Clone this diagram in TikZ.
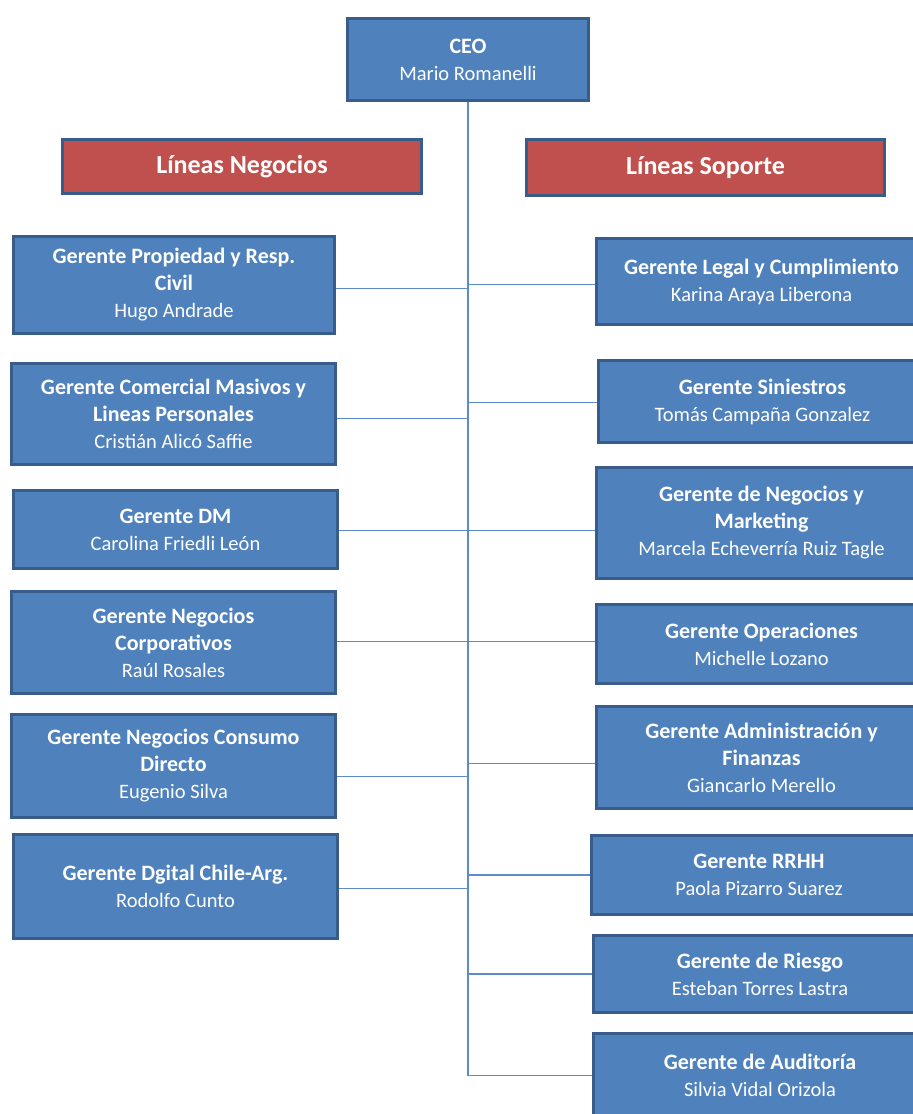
\documentclass[tikz,border=0pt]{standalone}
\usepackage{fontspec}
\setmainfont{Carlito}
\definecolor{boxfill}{HTML}{4F81BD}
\definecolor{boxline}{HTML}{385D8A}
\definecolor{redfill}{HTML}{C0504D}
\definecolor{conn}{HTML}{5B8BC9}
\tikzset{
  orgbox/.style={draw=boxline, line width=3pt, fill=boxfill, text=white, anchor=north west,
    inner sep=0pt, align=center, font=\fontsize{20.5}{27}\selectfont},
  headbox/.style={draw=boxline, line width=3pt, fill=redfill, text=white, anchor=north west,
    inner sep=0pt, align=center, font=\fontsize{26}{28}\selectfont\bfseries},
  link/.style={draw=conn, line width=1.6pt},
}
\newcommand{\tl}[1]{{\fontsize{22}{27}\selectfont\bfseries #1}}
\begin{document}
\begin{tikzpicture}[x=1pt,y=-1pt]
\useasboundingbox (0,0) rectangle (913,1114);
% CEO
\node[orgbox, minimum width=241pt, minimum height=82pt] (ceo) at (346,17) {\tl{CEO}\\Mario Romanelli};
% headings
\node[headbox, minimum width=359pt, minimum height=54pt] (hn) at (61,138) {Líneas Negocios};
\node[headbox, minimum width=358pt, minimum height=56pt] (hs) at (525,138) {Líneas Soporte};
% left boxes
\node[orgbox, minimum width=321pt, minimum height=97pt] (l1) at (12,235) {\tl{Gerente Propiedad y Resp.}\\\tl{Civil}\\Hugo Andrade};
\node[orgbox, minimum width=324pt, minimum height=101pt] (l2) at (10,362) {\tl{Gerente Comercial Masivos y}\\\tl{Lineas Personales}\\Cristián Alicó Saffie};
\node[orgbox, minimum width=324pt, minimum height=78pt] (l3) at (12,489) {\tl{Gerente DM}\\Carolina Friedli León};
\node[orgbox, minimum width=324pt, minimum height=102pt] (l4) at (10,590) {\tl{Gerente Negocios}\\\tl{Corporativos}\\Raúl Rosales};
\node[orgbox, minimum width=324pt, minimum height=103pt] (l5) at (10,713) {\tl{Gerente Negocios Consumo}\\\tl{Directo}\\Eugenio Silva};
\node[orgbox, minimum width=324pt, minimum height=104pt] (l6) at (12,833) {\tl{Gerente Dgital Chile-Arg.}\\Rodolfo Cunto};
% right boxes
\node[orgbox, minimum width=330pt, minimum height=86pt] (r1) at (595,237) {\tl{Gerente Legal y Cumplimiento}\\Karina Araya Liberona};
\node[orgbox, minimum width=328pt, minimum height=82pt] (r2) at (597,359) {\tl{Gerente Siniestros}\\Tomás Campaña Gonzalez};
\node[orgbox, minimum width=330pt, minimum height=111pt] (r3) at (595,466) {\tl{Gerente de Negocios y}\\\tl{Marketing}\\Marcela Echeverría Ruiz Tagle};
\node[orgbox, minimum width=330pt, minimum height=79pt] (r4) at (595,603) {\tl{Gerente Operaciones}\\Michelle Lozano};
\node[orgbox, minimum width=330pt, minimum height=102pt] (r5) at (595,705) {\tl{Gerente Administración y}\\\tl{Finanzas}\\Giancarlo Merello};
\node[orgbox, minimum width=335pt, minimum height=79pt] (r6) at (590,834) {\tl{Gerente RRHH}\\Paola Pizarro Suarez};
\node[orgbox, minimum width=333pt, minimum height=77pt] (r7) at (592,934) {\tl{Gerente de Riesgo}\\Esteban Torres Lastra};
\node[orgbox, minimum width=333pt, minimum height=84pt] (r8) at (592,1032) {\tl{Gerente de Auditoría}\\Silvia Vidal Orizola};
% trunk
\coordinate (tend) at (r8.west -| ceo.south);
\draw[link] (ceo.south) -- (tend);
% left connectors
\draw[link] ([yshift=-3.5pt]l1.east) -- ([yshift=-3.5pt]l1.east -| ceo.south);
\draw[link] ([yshift=-4.5pt]l2.east) -- ([yshift=-4.5pt]l2.east -| ceo.south);
\draw[link] ([yshift=-1pt]l3.east) -- ([yshift=-1pt]l3.east -| ceo.south);
\draw[link] ([yshift=1pt]l4.east) -- ([yshift=1pt]l4.east -| ceo.south);
\draw[link] ([yshift=-10.5pt]l5.east) -- ([yshift=-10.5pt]l5.east -| ceo.south);
\draw[link] ([yshift=-2pt]l6.east) -- ([yshift=-2pt]l6.east -| ceo.south);
% right connectors
\draw[link] ([yshift=-3pt]r1.west) -- ([yshift=-3pt]r1.west -| ceo.south);
\draw[link] ([yshift=-1pt]r2.west) -- ([yshift=-1pt]r2.west -| ceo.south);
\draw[link] ([yshift=-7.5pt]r3.west) -- ([yshift=-7.5pt]r3.west -| ceo.south);
\draw[link] ([yshift=2.5pt]r4.west) -- ([yshift=2.5pt]r4.west -| ceo.south);
\draw[link] ([yshift=-6pt]r5.west) -- ([yshift=-6pt]r5.west -| ceo.south);
\draw[link] (r6.west) -- (r6.west -| ceo.south);
\draw[link] (r7.west) -- (r7.west -| ceo.south);
\draw[link] (r8.west) -- (tend);
\end{tikzpicture}
\end{document}
